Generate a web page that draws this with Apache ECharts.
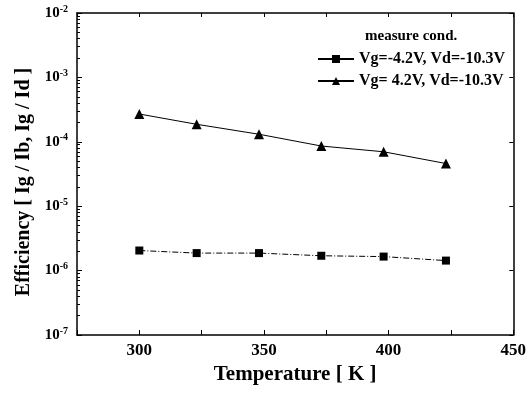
<!DOCTYPE html>
<html lang="en">
  <head>
    <meta charset="UTF-8" />
    <title>Efficiency vs Temperature</title>
    <script src="https://cdn.jsdelivr.net/npm/echarts@6/dist/echarts.min.js"></script>
  </head>
  <body style="margin: 0">
    <div id="chart" style="width: 529px; height: 396px; background: #fff"></div>
  </body>
  <script>
    // 数据
    let temperature = [300, 323, 348, 373, 398, 423];
    let effSquare = [2.05e-6, 1.87e-6, 1.87e-6, 1.7e-6, 1.65e-6, 1.43e-6];
    let effTriangle = [2.7e-4, 1.87e-4, 1.31e-4, 8.6e-5, 7.0e-5, 4.6e-5];
    let legendNames = ["Vg=-4.2V, Vd=-10.3V", "Vg= 4.2V, Vd=-10.3V"];

    let font = "Liberation Serif";

    function pairs(xs, ys) {
      return xs.map((x, i) => [x, ys[i]]);
    }

    let chart = echarts.init(document.getElementById("chart"));
    let tickStyle = { color: "#000", width: 1 };
    let option = {
      backgroundColor: "#fff",
      animation: false,
      grid: { left: 77, right: 14, top: 13, bottom: 61 },
      title: {
        text: "measure cond.",
        left: 360,
        top: 24,
        textStyle: { fontFamily: font, fontWeight: "bold", fontSize: 15, color: "#000" },
      },
      legend: {
        orient: "vertical",
        left: 312,
        top: 46,
        itemWidth: 36,
        itemHeight: 10,
        itemGap: 6,
        textStyle: { fontFamily: font, fontWeight: "bold", fontSize: 16, color: "#000" },
        // 图例里两条线都是实线
        data: legendNames.map((n) => ({ name: n, lineStyle: { type: "solid" } })),
      },
      xAxis: [
        {
          type: "value",
          min: 275,
          max: 450,
          interval: 25,
          name: "Temperature [ K ]",
          nameLocation: "middle",
          nameGap: 29,
          nameTextStyle: { fontFamily: font, fontWeight: "bold", fontSize: 21, color: "#000" },
          axisLine: { lineStyle: { color: "#000", width: 1.5 } },
          axisTick: { inside: true, length: 5, lineStyle: tickStyle },
          splitLine: { show: false },
          axisLabel: {
            fontFamily: font,
            fontWeight: "bold",
            fontSize: 17,
            color: "#000",
            margin: 7,
            formatter: (v) => (v % 50 === 0 ? String(v) : ""),
          },
        },
        {
          type: "value",
          position: "top",
          min: 275,
          max: 450,
          interval: 25,
          axisLine: { lineStyle: { color: "#000", width: 1.5 } },
          axisTick: { inside: true, length: 4, lineStyle: tickStyle },
          axisLabel: { show: false },
          splitLine: { show: false },
        },
      ],
      yAxis: [
        {
          type: "log",
          logBase: 10,
          min: 1e-7,
          max: 1e-2,
          name: "Efficiency [ Ig / Ib, Ig / Id ]",
          nameLocation: "middle",
          nameGap: 42,
          nameTextStyle: {
            fontFamily: font,
            fontWeight: "bold",
            fontSize: 20,
            color: "#000",
            padding: [0, 16, 0, 0],
          },
          axisLine: { show: true, lineStyle: { color: "#000", width: 1.5 } },
          axisTick: { inside: true, length: 5, lineStyle: tickStyle },
          minorTick: { show: true, splitNumber: 9, length: 3, lineStyle: { color: "#000" } },
          splitLine: { show: false },
          axisLabel: {
            margin: 9,
            formatter: (v) => "{b|10}{s|" + Math.round(Math.log10(v)) + "}",
            rich: {
              b: { fontFamily: font, fontWeight: "bold", fontSize: 15, color: "#000" },
              s: {
                fontFamily: font,
                fontWeight: "bold",
                fontSize: 10,
                color: "#000",
                verticalAlign: "top",
                padding: [0, 0, 8, 0],
              },
            },
          },
        },
        {
          type: "log",
          logBase: 10,
          min: 1e-7,
          max: 1e-2,
          position: "right",
          axisLine: { show: true, lineStyle: { color: "#000", width: 1.5 } },
          axisTick: { inside: true, length: 4, lineStyle: tickStyle },
          axisLabel: { show: false },
          splitLine: { show: false },
        },
      ],
      series: [
        {
          name: legendNames[0],
          type: "line",
          data: pairs(temperature, effSquare),
          symbol: "rect",
          symbolSize: 8,
          itemStyle: { color: "#000" },
          lineStyle: { color: "#000", width: 1, type: [6, 2, 1, 2] },
        },
        {
          name: legendNames[1],
          type: "line",
          data: pairs(temperature, effTriangle),
          symbol: "triangle",
          symbolSize: 10,
          itemStyle: { color: "#000" },
          lineStyle: { color: "#000", width: 1 },
        },
      ],
    };
    chart.setOption(option);
  </script>
</html>
